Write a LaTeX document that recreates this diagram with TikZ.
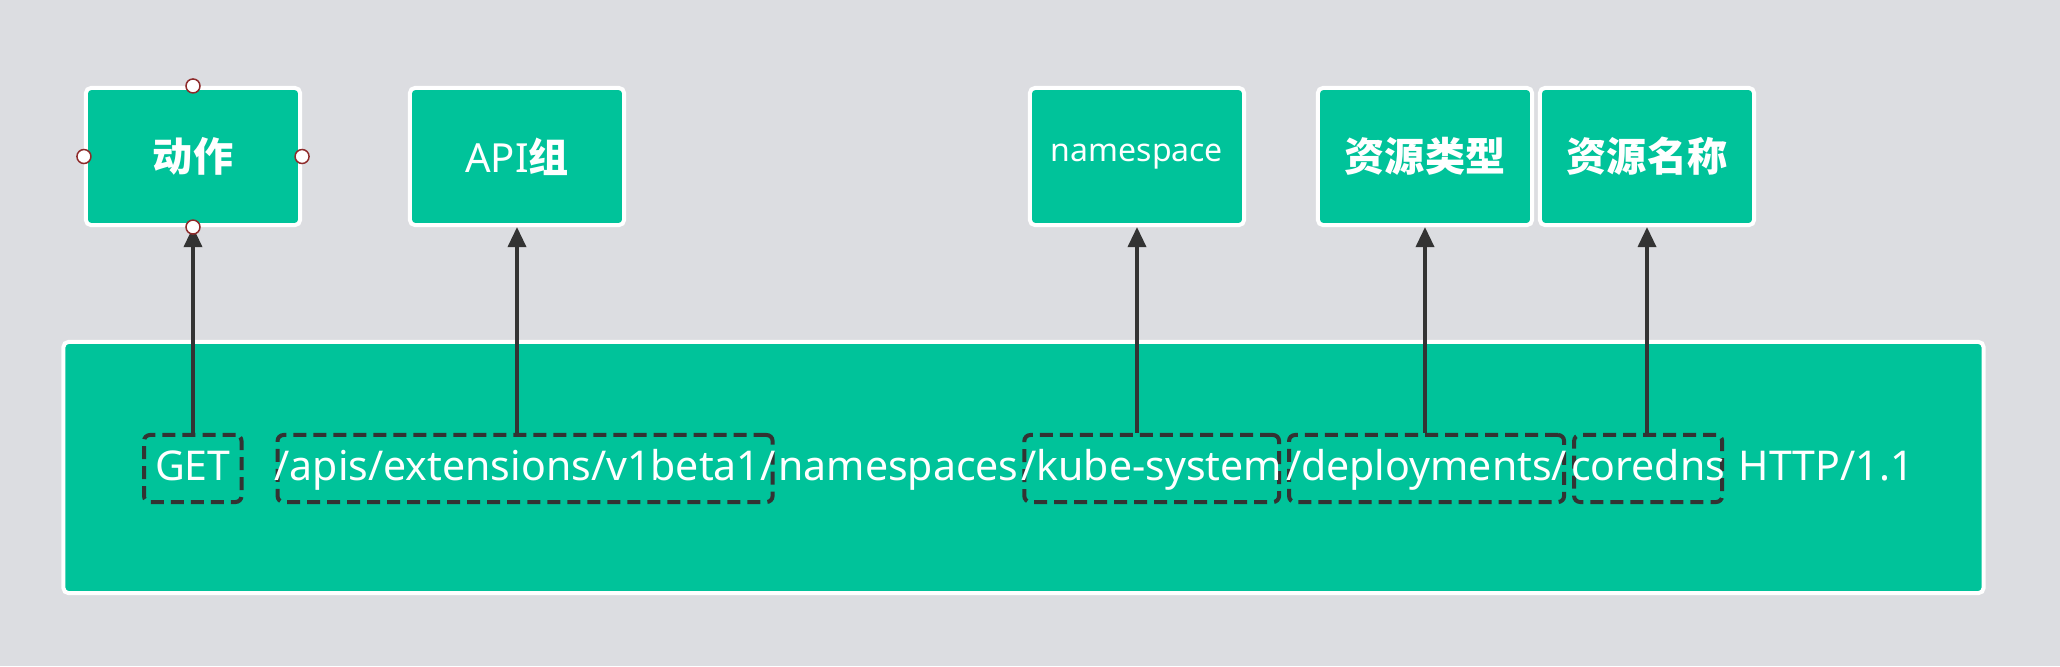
\documentclass[tikz,border=0pt]{standalone}
\usepackage{fontspec}
\setmainfont{Noto Sans}
\newfontfamily\cjkfont{Noto Sans CJK SC}
\usetikzlibrary{arrows.meta}

\definecolor{bggrey}{HTML}{DCDDE1}
\definecolor{mint}{HTML}{00C39A}
\definecolor{ink}{HTML}{333333}
\definecolor{handle}{HTML}{8E2B2B}

\newcommand\zh[1]{{\cjkfont\bfseries #1}}

\tikzset{
  card/.style={fill=mint, draw=white, line width=0.04cm, rounded corners=0.05cm,
    minimum width=2.14cm, minimum height=1.37cm, text=white, inner sep=0pt,
    font=\fontsize{11.4}{13}\selectfont},
  reqtext/.style={text=white, anchor=base west, inner xsep=0pt, inner ysep=0pt,
    text height=0.45cm, text depth=0.22cm, font=\fontsize{11.67}{14}\selectfont},
  part/.style={reqtext, draw=ink, line width=0.04cm, dash pattern=on 0.13cm off 0.07cm,
    rounded corners=0.06cm, inner xsep=-0.03cm},
  link/.style={draw=ink, line width=0.035cm, -{Triangle[width=0.18cm,length=0.2cm]}},
  grip/.style={circle, fill=white, draw=handle, line width=0.015cm,
    minimum size=0.14cm, inner sep=0pt}
}

\begin{document}
\begin{tikzpicture}[x=0.01cm, y=-0.01cm]
		\fill[bggrey] (0,0) rectangle (2060,666);
		\useasboundingbox (0,0) rectangle (2060,666);
		% labels
		\node[card] (act) at (193,156.5) {\zh{动作}};
		\node[card] (api) at (517,156.5) {API\zh{组}};
		\node[card, font=\fontsize{9.1}{11}\selectfont] (ns) at (1137,156.5) {namespace};
		\node[card] (kind) at (1425,156.5) {\zh{资源类型}};
		\node[card] (name) at (1647,156.5) {\zh{资源名称}};
		% request line
		\node[card, minimum width=19.19cm, minimum height=2.51cm] (req) at (1023.5,467.5) {};
		\node[part, inner xsep=0.11cm] (get) at (142,480) {GET};
		\node[part] (apis) at ([xshift=0.32cm]get.base east) {/apis/extensions/v1beta1/};
		\node[reqtext] (nsword) at ([xshift=0.03cm]apis.base east) {namespaces};
		\node[part] (kube) at ([xshift=0.03cm]nsword.base east) {/kube-system};
		\node[part] (deploy) at ([xshift=0.06cm]kube.base east) {/deployments/};
		\node[part] (dns) at ([xshift=0.06cm]deploy.base east) {coredns};
		\node[reqtext] (proto) at ([xshift=0.14cm]dns.base east) {HTTP/1.1};
		% arrows
		\draw[link] (get.north -| act.south) -- (act.south);
		\draw[link] (apis.north -| api.south) -- (api.south);
		\draw[link] (kube.north -| ns.south) -- (ns.south);
		\draw[link] (deploy.north -| kind.south) -- (kind.south);
		\draw[link] (dns.north -| name.south) -- (name.south);
		% handles
		\foreach \side in {north,south,east,west}
			\node[grip] (grip-\side) at (act.\side) {};
\end{tikzpicture}
\end{document}
